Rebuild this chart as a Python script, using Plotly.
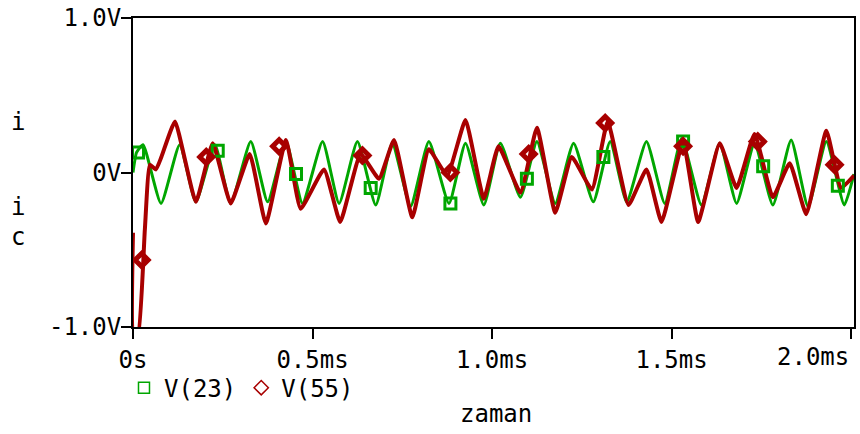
import plotly.graph_objects as go

# Transient traces (time in ms, voltage in V)
t_v23 = [0.000, 0.010, 0.028, 0.078, 0.130, 0.175, 0.228, 0.272, 0.328, 0.375,
         0.426, 0.472, 0.528, 0.574, 0.625, 0.676, 0.722, 0.773, 0.824, 0.880,
         0.926, 0.977, 1.023, 1.079, 1.125, 1.176, 1.227, 1.282, 1.329, 1.375,
         1.430, 1.481, 1.528, 1.583, 1.634, 1.681, 1.731, 1.782, 1.833, 1.880,
         1.931, 1.981, 2.008]
v23 = [0.00, 0.13, 0.18, -0.20, 0.18, -0.19, 0.18, -0.20, 0.20, -0.19,
       0.20, -0.20, 0.20, -0.20, 0.20, -0.21, 0.19, -0.22, 0.20, -0.20,
       0.19, -0.21, 0.19, -0.16, 0.20, -0.20, 0.19, -0.19, 0.20, -0.19,
       0.20, -0.20, 0.22, -0.21, 0.19, -0.20, 0.19, -0.21, 0.21, -0.22,
       0.20, -0.21, -0.01]

t_v55 = [0.000, 0.001, 0.014, 0.033, 0.047, 0.064, 0.079, 0.117, 0.175, 0.222,
         0.272, 0.325, 0.370, 0.426, 0.467, 0.532, 0.577, 0.634, 0.685, 0.727,
         0.778, 0.824, 0.875, 0.926, 0.977, 1.018, 1.079, 1.125, 1.176, 1.222,
         1.278, 1.322, 1.380, 1.430, 1.472, 1.532, 1.574, 1.634, 1.681, 1.731,
         1.782, 1.829, 1.875, 1.931, 1.972, 2.008]
v55 = [-0.39, -1.05, -1.05, -0.37, 0.05, 0.02, 0.10, 0.33, -0.19, 0.19,
       -0.20, 0.12, -0.33, 0.21, -0.235, 0.02, -0.32, 0.12, -0.04, 0.21,
       -0.29, 0.15, -0.02, 0.34, -0.17, 0.17, -0.13, 0.29, -0.26, 0.10,
       -0.11, 0.33, -0.21, 0.02, -0.32, 0.20, -0.32, 0.19, -0.10, 0.25,
       -0.16, 0.06, -0.27, 0.27, -0.10, -0.02]

# Trace identification symbols along each curve
mark_t_v23 = [0.014, 0.236, 0.454, 0.662, 0.884, 1.097, 1.310, 1.532, 1.755, 1.963]
mark_v23 = [0.13, 0.14, -0.01, -0.10, -0.20, -0.04, 0.10, 0.20, 0.04, -0.085]
mark_t_v55 = [0.024, 0.204, 0.407, 0.639, 0.884, 1.102, 1.315, 1.532, 1.740, 1.954]
mark_v55 = [-0.566, 0.10, 0.17, 0.11, 0.00, 0.12, 0.32, 0.17, 0.20, 0.05]

x_tick_vals = [0, 0.5, 1.0, 1.5, 2.0]
x_tick_text = ["0s", "0.5ms", "1.0ms", "1.5ms", "2.0ms"]
y_tick_vals = [-1.0, 0.0, 1.0]
y_tick_text = ["-1.0V", "0V", "1.0V"]

GREEN = "#00a600"
RED = "#a80000"
FONT = "DejaVu Sans Mono"
X_MAX = 2.008

fig = go.Figure()

fig.add_trace(go.Scatter(x=t_v23, y=v23, mode="lines", showlegend=False,
                         line=dict(color=GREEN, width=3, shape="spline", smoothing=0.5)))
fig.add_trace(go.Scatter(x=t_v55, y=v55, mode="lines", showlegend=False,
                         line=dict(color=RED, width=4, shape="spline", smoothing=0.4)))
fig.add_trace(go.Scatter(x=mark_t_v23, y=mark_v23, mode="markers", showlegend=False,
                         cliponaxis=False,
                         marker=dict(symbol="square-open", size=11, color=GREEN,
                                     line=dict(color=GREEN, width=3))))
fig.add_trace(go.Scatter(x=mark_t_v55, y=mark_v55, mode="markers", showlegend=False,
                         cliponaxis=False,
                         marker=dict(symbol="diamond-open", size=10, color=RED,
                                     line=dict(color=RED, width=5))))

# Legend entries: symbol only
fig.add_trace(go.Scatter(x=[None], y=[None], mode="markers", name="V(23)",
                         marker=dict(symbol="square-open", size=11, color=GREEN,
                                     line=dict(color=GREEN, width=1.5))))
fig.add_trace(go.Scatter(x=[None], y=[None], mode="markers", name="V(55)",
                         marker=dict(symbol="diamond-open", size=11, color=RED,
                                     line=dict(color=RED, width=1.5))))

axis_common = dict(
    showgrid=False, zeroline=False, showline=True, linecolor="black", linewidth=2,
    mirror=True, ticks="outside", ticklen=10, tickwidth=2, tickcolor="black",
    tickfont=dict(family=FONT, size=24, color="black"),
)

# the last x label is right-aligned to its tick so it stays inside the page
fig.update_xaxes(range=[0, X_MAX], tickmode="array", tickvals=x_tick_vals,
                 ticktext=x_tick_text[:-1] + [""], **axis_common)
fig.update_yaxes(range=[-1.0002, 1.0002], tickmode="array", tickvals=y_tick_vals,
                 ticktext=y_tick_text, ticklabelstandoff=-5, **axis_common)

fig.update_layout(
    width=860, height=434,
    margin=dict(l=133, r=4, t=15, b=107),
    paper_bgcolor="white", plot_bgcolor="white",
    font=dict(family=FONT, size=24, color="black"),
    legend=dict(orientation="h", x=-0.0125, y=-0.125, xanchor="left", yanchor="top",
                font=dict(family=FONT, size=24, color="black"),
                bgcolor="rgba(0,0,0,0)", borderwidth=0, itemwidth=30,
                tracegroupgap=0),
)

plot_l, plot_r, plot_t, plot_b = 133, 856, 15, 327


def px_to_paper(px, py):
    return (px - plot_l) / (plot_r - plot_l), (plot_b - py) / (plot_b - plot_t)


# stacked letters of the vertical axis title, and the x-axis title
for ch, px, py in [("i", 18, 120), ("i", 18, 206), ("c", 18, 236), ("zaman", 497, 415)]:
    ax, ay = px_to_paper(px, py)
    fig.add_annotation(text=ch, x=ax, y=ay, xref="paper", yref="paper",
                       xanchor="center", yanchor="middle", showarrow=False,
                       font=dict(family=FONT, size=24, color="black"))

fig.add_annotation(text=x_tick_text[-1], x=x_tick_vals[-1], xref="x",
                   y=px_to_paper(0, 357)[1], yref="paper",
                   xanchor="right", yanchor="middle", showarrow=False,
                   font=dict(family=FONT, size=24, color="black"))

fig.write_html("out.html")
